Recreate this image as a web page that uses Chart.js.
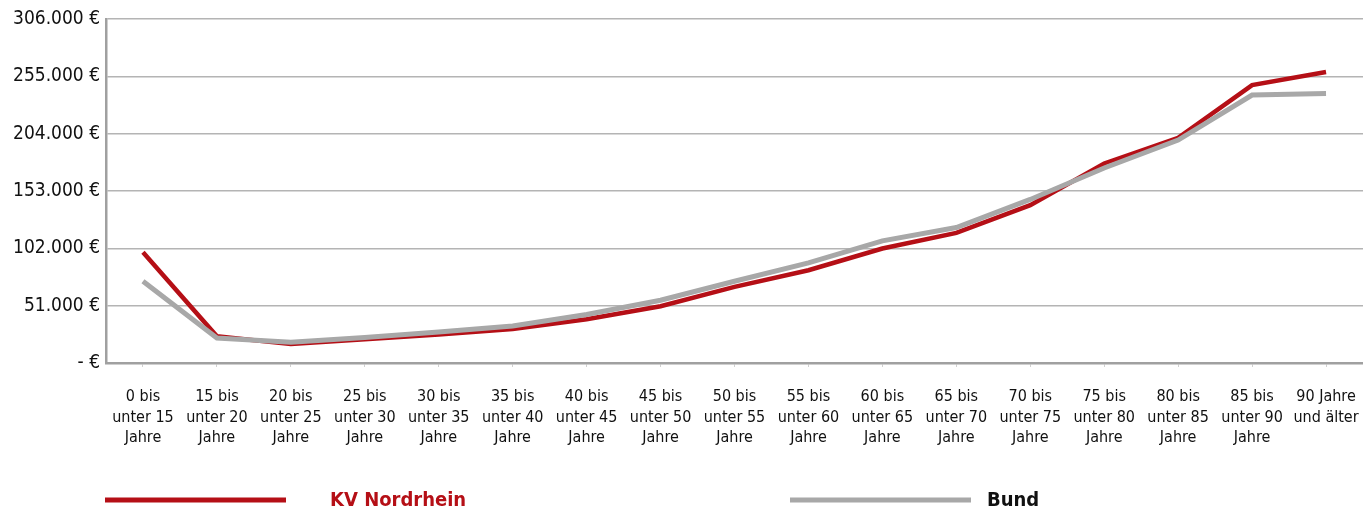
<!DOCTYPE html>
<html>
<head>
<meta charset="utf-8">
<script src="https://cdn.jsdelivr.net/npm/chart.js@4"></script>
<style>
html,body{margin:0;padding:0;background:#fff;}
#wrap{width:1363px;height:515px;position:relative;}
</style>
</head>
<body>
<div id="wrap"><canvas id="c" width="1363" height="515"></canvas></div>
<script>
const categories = [
  ["0 bis","unter 15","Jahre"],
  ["15 bis","unter 20","Jahre"],
  ["20 bis","unter 25","Jahre"],
  ["25 bis","unter 30","Jahre"],
  ["30 bis","unter 35","Jahre"],
  ["35 bis","unter 40","Jahre"],
  ["40 bis","unter 45","Jahre"],
  ["45 bis","unter 50","Jahre"],
  ["50 bis","unter 55","Jahre"],
  ["55 bis","unter 60","Jahre"],
  ["60 bis","unter 65","Jahre"],
  ["65 bis","unter 70","Jahre"],
  ["70 bis","unter 75","Jahre"],
  ["75 bis","unter 80","Jahre"],
  ["80 bis","unter 85","Jahre"],
  ["85 bis","unter 90","Jahre"],
  ["90 Jahre","und älter"]
];
const kvNordrhein = [98500, 23800, 16800, 21100, 25300, 30300, 38900, 50500, 67700, 82500, 101800, 115700, 140400, 177500, 200300, 247200, 258800];
const bund = [72700, 22300, 18500, 22600, 27600, 33000, 43100, 55800, 72700, 89000, 108600, 120500, 145500, 173500, 198300, 238300, 239800];
const yTicks = [0, 51000, 102000, 153000, 204000, 255000, 306000];

const seriesNames = ["KV Nordrhein", "Bund"];
const RED = "#b50f16";
const GRAY = "#a8a8a8";
const FONT = "'Liberation Sans Narrow','DejaVu Sans Condensed','Noto Sans',sans-serif";

function fmt(v){
  if (v === 0) return "- €";
  return String(v).replace(/\B(?=(\d{3})+(?!\d))/g, ".") + " €";
}

const legendPlugin = {
  id: 'customLegend',
  afterDraw(chart, args, opts){
    const ctx = chart.ctx;
    ctx.save();
    opts.items.forEach((it, i) => {
      const ds = chart.data.datasets[i];
      ctx.strokeStyle = ds.borderColor;
      ctx.lineWidth = 5;
      ctx.beginPath();
      ctx.moveTo(it.x1, it.y);
      ctx.lineTo(it.x2, it.y);
      ctx.stroke();
      ctx.fillStyle = it.color;
      ctx.font = "bold 20px " + FONT;
      ctx.textBaseline = "middle";
      ctx.textAlign = "left";
      ctx.fillText(ds.label, it.tx, it.y + 1);
    });
    ctx.restore();
  }
};

new Chart(document.getElementById('c'), {
  type: 'line',
  data: {
    labels: categories,
    datasets: [
      { label: seriesNames[0], data: kvNordrhein, borderColor: RED, backgroundColor: RED, borderWidth: 4.5, pointRadius: 0, tension: 0, order: 1 },
      { label: seriesNames[1], data: bund, borderColor: GRAY, backgroundColor: GRAY, borderWidth: 5, pointRadius: 0, tension: 0, order: 0 }
    ]
  },
  options: {
    responsive: false,
    animation: false,
    devicePixelRatio: 1,
    layout: { padding: { top: 19, right: 0, left: 0, bottom: 0 } },
    plugins: {
      legend: { display: false },
      tooltip: { enabled: false },
      customLegend: {
        items: [
          { x1: 105, x2: 286, y: 500, tx: 330, color: RED },
          { x1: 790, x2: 971, y: 500, tx: 987, color: "#111" }
        ]
      }
    },
    scales: {
      x: {
        offset: true,
        grid: { display: true, drawOnChartArea: false, drawTicks: true, tickLength: 4, offset: false, color: '#d0d0d0', lineWidth: 1 },
        border: { display: true, color: '#a0a0a0', width: 2.5 },
        ticks: { color: '#111', font: { family: FONT, size: 16, lineHeight: 1.28 }, padding: 20, maxRotation: 0, autoSkip: false },
        afterFit(scale){ scale.height = 152; scale.paddingRight = 0; scale.paddingLeft = 0; }
      },
      y: {
        min: 0, max: 306000,
        afterBuildTicks(scale){ scale.ticks = yTicks.map(v => ({ value: v })); },
        grid: { color: '#b4b4b4', lineWidth: 1.5, drawTicks: false },
        border: { display: true, color: '#a0a0a0', width: 2.5 },
        ticks: { color: '#111', font: { family: FONT, size: 19 }, padding: 6, callback: (v) => fmt(v) },
        afterFit(scale){ scale.width = 106; scale.paddingTop = 0; scale.paddingBottom = 0; }
      }
    }
  },
  plugins: [legendPlugin]
});
</script>
</body>
</html>
